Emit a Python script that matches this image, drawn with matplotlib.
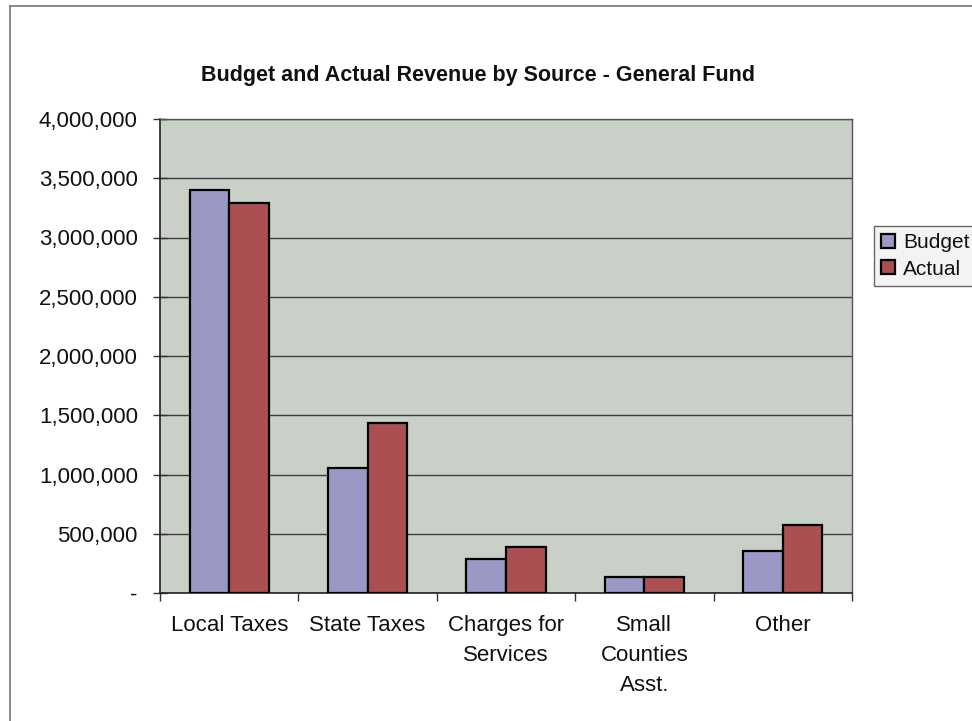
import numpy as np
import matplotlib
matplotlib.use("Agg")
import matplotlib.pyplot as plt
import matplotlib.ticker as mticker
from matplotlib.lines import Line2D

categories = ["Local Taxes", "State Taxes", "Charges for\nServices",
              "Small\nCounties\nAsst.", "Other"]
budget = [3405000, 1055000, 287000, 132000, 352000]
actual = [3290000, 1432000, 392000, 132000, 574000]
series_names = ["Budget", "Actual"]

BUDGET_C = "#9a99c6"
ACTUAL_C = "#ab5052"
PLOT_BG  = "#c8d0c7"
GRID_C   = "#3c3c3c"

plt.rcParams.update({
    "font.family": ["Liberation Sans", "DejaVu Sans"],
    "font.size": 16,
    "text.color": "#111111",
    "xtick.color": "#111111",
    "ytick.color": "#111111",
})

fig = plt.figure(figsize=(9.72, 7.21), dpi=100, facecolor="white")
ax = fig.add_axes([160 / 972, 1 - 593 / 721, 692 / 972, 474 / 721])
ax.set_facecolor(PLOT_BG)

x = np.arange(len(categories))
w = 1 / 3.5
ax.bar(x - w / 2, budget, width=w, color=BUDGET_C, edgecolor="black",
       linewidth=1.6, zorder=3, label=series_names[0])
ax.bar(x + w / 2, actual, width=w, color=ACTUAL_C, edgecolor="black",
       linewidth=1.6, zorder=3, label=series_names[1])

ax.set_xlim(-0.5, len(categories) - 0.5)
ax.set_ylim(0, 4000000)
ax.yaxis.set_major_locator(mticker.MultipleLocator(500000))
ax.yaxis.set_major_formatter(
    mticker.FuncFormatter(lambda v, _: "-" if v == 0 else f"{v:,.0f}"))
ax.grid(axis="y", color=GRID_C, linewidth=1.0, zorder=1)
ax.set_axisbelow(True)

# category labels at the centres, tick marks on the boundaries
ax.set_xticks(x)
ax.set_xticklabels(categories, linespacing=1.55, va="top")
ax.tick_params(axis="x", which="major", length=0, pad=16)
ax.set_xticks(np.arange(-0.5, len(categories)), minor=True)
ax.tick_params(axis="x", which="minor", direction="out", length=6,
               width=1, color="#333333")
ax.tick_params(axis="y", direction="inout", length=10, width=1,
               color="#333333", pad=11)

for side in ["left", "bottom"]:
    ax.spines[side].set_color("#222222")
    ax.spines[side].set_linewidth(1.2)
for side in ["top", "right"]:
    ax.spines[side].set_color("#555555")
    ax.spines[side].set_linewidth(1.0)

fig.text(0.492, 1 - 76 / 721,
         "Budget and Actual Revenue by Source - General Fund",
         ha="center", va="center", fontsize=15.5, fontweight="bold")

leg = fig.legend(loc="center left", bbox_to_anchor=(874 / 972, 1 - 256 / 721),
                 frameon=True, fancybox=False, fontsize=15,
                 handlelength=0.65, handleheight=0.65, handletextpad=0.4,
                 borderpad=0.35, labelspacing=0.35, borderaxespad=0)
leg.get_frame().set_facecolor("#f1f1f1")
leg.get_frame().set_edgecolor("#444444")
leg.get_frame().set_linewidth(1.0)

# outer chart frame
fig.add_artist(Line2D([10 / 972, 10 / 972], [0, 1 - 6 / 721],
                      transform=fig.transFigure, color="#777777", lw=1.2))
fig.add_artist(Line2D([10 / 972, 1], [1 - 6 / 721, 1 - 6 / 721],
                      transform=fig.transFigure, color="#777777", lw=1.2))

fig.savefig("out.png", dpi=100, facecolor="white")
